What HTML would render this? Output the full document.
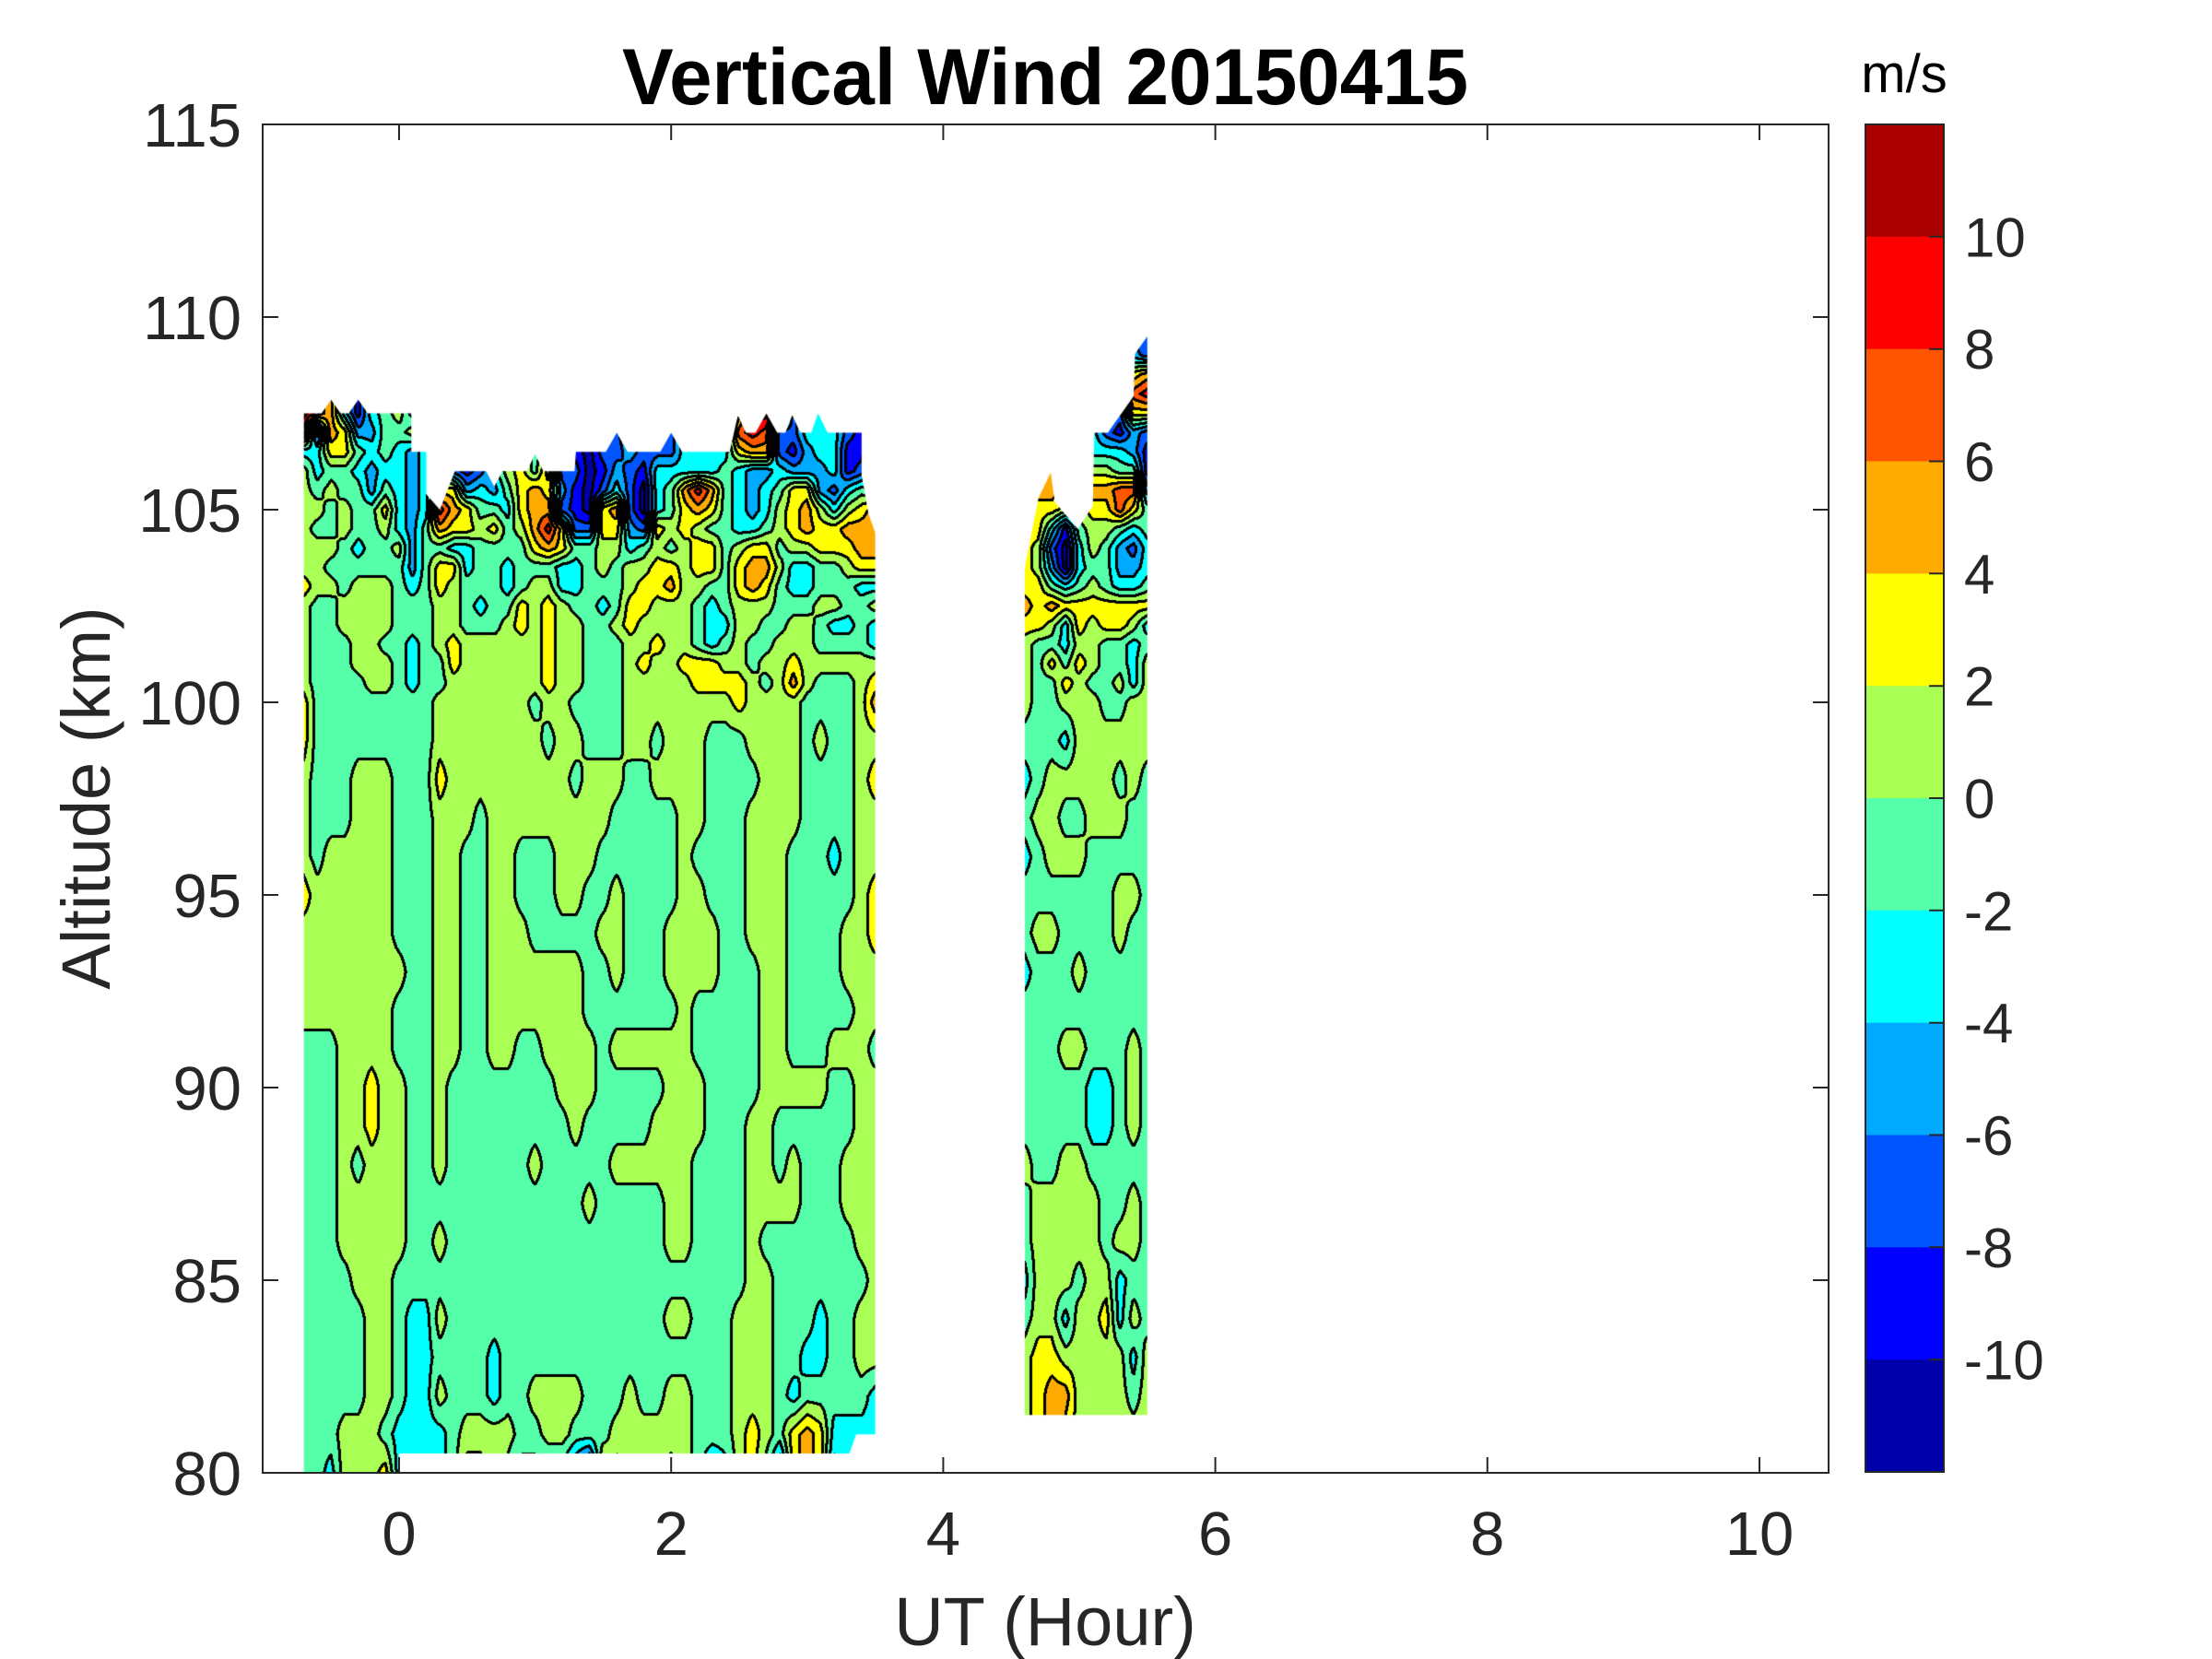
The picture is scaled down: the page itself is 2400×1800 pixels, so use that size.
<!DOCTYPE html>
<html><head><meta charset="utf-8">
<style>
html,body{margin:0;padding:0;background:#fff;}
#wrap{position:relative;width:2400px;height:1800px;overflow:hidden;background:#fff;}
#wrap svg,#wrap canvas{position:absolute;left:0;top:0;}
text{font-family:"Liberation Sans",Arial,sans-serif;}
</style></head><body>
<div id="wrap">
<svg id="bg" width="2400" height="1800">
 <rect x="330" y="470" width="620" height="1107" fill="#80ff80"/>
 <rect x="1112" y="560" width="133" height="975" fill="#80ff80"/>
</svg>
<canvas id="cv" width="2400" height="1800"></canvas>
<svg width="2400" height="1800">
 <g fill="none" stroke="#262626" stroke-width="2">
  <rect x="285" y="135" width="1699" height="1463"/>
  <path d="M433 1598V1581M728.2 1598V1581M1023.4 1598V1581M1318.6 1598V1581M1613.8 1598V1581M1909 1598V1581
           M433 135V152M728.2 135V152M1023.4 135V152M1318.6 135V152M1613.8 135V152M1909 135V152
           M285 1389H302M285 1180H302M285 971H302M285 762H302M285 553H302M285 344H302
           M1984 1389H1967M1984 1180H1967M1984 971H1967M1984 762H1967M1984 553H1967M1984 344H1967"/>
 </g>
 <g font-size="67" fill="#262626" text-anchor="end">
  <text x="262" y="1622">80</text>
  <text x="262" y="1413">85</text>
  <text x="262" y="1204">90</text>
  <text x="262" y="995">95</text>
  <text x="262" y="786">100</text>
  <text x="262" y="577">105</text>
  <text x="262" y="368">110</text>
  <text x="262" y="159">115</text>
 </g>
 <g font-size="67" fill="#262626" text-anchor="middle">
  <text x="433" y="1687">0</text>
  <text x="728.2" y="1687">2</text>
  <text x="1023.4" y="1687">4</text>
  <text x="1318.6" y="1687">6</text>
  <text x="1613.8" y="1687">8</text>
  <text x="1909" y="1687">10</text>
 </g>
 <text x="1134" y="1785" font-size="74" fill="#262626" text-anchor="middle">UT (Hour)</text>
 <text x="119" y="866" font-size="74" fill="#262626" text-anchor="middle" transform="rotate(-90 119 866)">Altitude (km)</text>
 <text x="675" y="113" font-size="86" font-weight="bold" fill="#000" textLength="918" lengthAdjust="spacingAndGlyphs">Vertical Wind 20150415</text>
 <g>
  <rect x="2024" y="135" width="85" height="122.3" fill="#AA0000"/>
  <rect x="2024" y="256.8" width="85" height="122.3" fill="#FF0000"/>
  <rect x="2024" y="378.7" width="85" height="122.3" fill="#FF5500"/>
  <rect x="2024" y="500.5" width="85" height="122.3" fill="#FFAA00"/>
  <rect x="2024" y="622.3" width="85" height="122.3" fill="#FFFF00"/>
  <rect x="2024" y="744.2" width="85" height="122.3" fill="#AAFF55"/>
  <rect x="2024" y="866" width="85" height="122.3" fill="#55FFAA"/>
  <rect x="2024" y="987.8" width="85" height="122.3" fill="#00FFFF"/>
  <rect x="2024" y="1109.7" width="85" height="122.3" fill="#00AAFF"/>
  <rect x="2024" y="1231.5" width="85" height="122.3" fill="#0055FF"/>
  <rect x="2024" y="1353.3" width="85" height="122.3" fill="#0000FF"/>
  <rect x="2024" y="1475.2" width="85" height="121.8" fill="#0000AA"/>
  <rect x="2024" y="135" width="85" height="1462" fill="none" stroke="#262626" stroke-width="2"/>
  <path fill="none" stroke="#262626" stroke-width="2" d="M2093 256.8H2109M2093 378.7H2109M2093 500.5H2109M2093 622.3H2109M2093 744.2H2109M2093 866H2109M2093 987.8H2109M2093 1109.7H2109M2093 1231.5H2109M2093 1353.3H2109M2093 1475.2H2109"/>
 </g>
 <g font-size="60" fill="#262626">
  <text x="2131" y="278.3">10</text>
  <text x="2131" y="400.2">8</text>
  <text x="2131" y="522">6</text>
  <text x="2131" y="643.8">4</text>
  <text x="2131" y="765.7">2</text>
  <text x="2131" y="887.5">0</text>
  <text x="2131" y="1009.3">-2</text>
  <text x="2131" y="1131.2">-4</text>
  <text x="2131" y="1253">-6</text>
  <text x="2131" y="1374.8">-8</text>
  <text x="2131" y="1496.7">-10</text>
 </g>
 <text x="2066" y="100" font-size="58" fill="#000" text-anchor="middle">m/s</text>
</svg>
</div>
<script>
(function(){
var X0=433,XS=147.6,Y0=1598,YS=41.8;
function PX(h){return X0+XS*h;}
function PY(a){return Y0-YS*(a-80);}
var COL=[[0,0,170],[0,0,255],[0,85,255],[0,170,255],[0,255,255],[85,255,170],[170,255,85],[255,255,0],[255,170,0],[255,85,0],[255,0,0],[170,0,0]];
var VAL={a:-11,b:-9,c:-7,d:-5,e:-3,f:-1,g:1,h:3,i:5,j:7,k:9,l:11};
var cv=document.getElementById('cv');var ctx=cv.getContext('2d');
function draw(B){
  var nc=B.nc;
  var rows=B.rows.slice().reverse();
  var G=rows.map(function(s){var r=[];for(var q=0;q<nc;q++){var ch=s.charAt(q);r.push(VAL[ch]!==undefined?VAL[ch]:-1);}return r;});
  var alts=B.alts;
  var P=B.poly.map(function(p){return [PX(p[0]),PY(p[1])];});
  var minx=1e9,maxx=-1e9,miny=1e9,maxy=-1e9;
  P.forEach(function(p){if(p[0]<minx)minx=p[0];if(p[0]>maxx)maxx=p[0];if(p[1]<miny)miny=p[1];if(p[1]>maxy)maxy=p[1];});
  var x0=Math.floor(minx)-2,y0=Math.floor(miny)-2,W=Math.ceil(maxx)-x0+3,H=Math.ceil(maxy)-y0+3;
  var band=new Int8Array(W*H);
  for(var y=0;y<H;y++){
    var alt=80+(Y0-(y0+y+0.5))/YS;
    var j=0;while(j<alts.length-2&&alts[j+1]<alt)j++;
    var ta=(alt-alts[j])/(alts[j+1]-alts[j]);if(ta<0)ta=0;if(ta>1)ta=1;
    var r0=G[j],r1=G[j+1];
    for(var x=0;x<W;x++){
      var h=(x0+x+0.5-X0)/XS;var fi=(h-B.h0)/B.dh;var i=Math.floor(fi);
      if(i<0)i=0;if(i>nc-2)i=nc-2;var tx=fi-i;if(tx<0)tx=0;if(tx>1)tx=1;
      var v=(r0[i]*(1-tx)+r0[i+1]*tx)*(1-ta)+(r1[i]*(1-tx)+r1[i+1]*tx)*ta+0.037;
      var b=Math.floor((v+12)/2);if(b<0)b=0;if(b>11)b=11;band[y*W+x]=b;
    }
  }
  var img=ctx.createImageData(W,H),d=img.data;
  var off=[[1,0],[-1,0],[0,1],[0,-1],[1,1],[-1,-1],[1,-1],[-1,1],[2,0],[0,2]];
  for(var y2=0;y2<H;y2++)for(var x2=0;x2<W;x2++){
    var k=y2*W+x2,bb=band[k],e=false;
    for(var o=0;o<off.length;o++){var xx=x2+off[o][0],yy=y2+off[o][1];if(xx<0||yy<0||xx>=W||yy>=H)continue;if(band[yy*W+xx]!==bb){e=true;break;}}
    var c=e?[0,0,0]:COL[bb];d[4*k]=c[0];d[4*k+1]=c[1];d[4*k+2]=c[2];d[4*k+3]=255;
  }
  var oc=document.createElement('canvas');oc.width=W;oc.height=H;oc.getContext('2d').putImageData(img,0,0);
  ctx.save();ctx.beginPath();
  P.forEach(function(p,n){if(n)ctx.lineTo(p[0],p[1]);else ctx.moveTo(p[0],p[1]);});
  ctx.closePath();ctx.clip();ctx.drawImage(oc,x0,y0);ctx.restore();
}
var LA=[],RA=[],a;
for(a=80;a<=99;a++){LA.push(a);RA.push(a);}
for(a=100;a<=108.001;a+=0.5)LA.push(a);
for(a=100;a<=110.001;a+=0.5)RA.push(a);
var L=[
"ljiebefgee"+"eeccehhhge"+"cbbcecccee"+"eehlliceee"+"dbe",
"ljiebefgee"+"eeccehhhge"+"cbbcecccee"+"eehlliceee"+"dbe",
"jcihddffge"+"eeccehhhge"+"cbccecccee"+"eejkjcceee"+"cbe",
"eehhfefede"+"ecccehhfge"+"baccdcccee"+"eehiicbdee"+"bbe",
"geffedeede"+"ecbceghfic"+"cabdcbeeee"+"efeddeddde"+"bce",
"gfgffdfede"+"hhdedfhihd"+"bacecaefik"+"ifedefhhdc"+"efe",
"ggfgffhede"+"kihffehiic"+"bahicaefhi"+"hfedeghige"+"ghi",
"gffgffgedf"+"ihhghfgikh"+"cchhdchghg"+"ffeefghihh"+"iii",
"gggfeffgdf"+"feeffffhih"+"ffggefgfgh"+"hfghhfgghh"+"hii",
"ggffffffdf"+"hheffefffe"+"efgfgghhgh"+"hfhiigeeff"+"ghh",
"hggfgggfef"+"hgfffefgge"+"efffghhigg"+"ffhihfeeff"+"fee",
"gffggggfff"+"ggfeffhghg"+"ffefhhgggf"+"efgggfffgg"+"ffg",
"gffggggfff"+"ggfffghghg"+"gffghggggf"+"eeggffggfe"+"efe",
"gfffggffef"+"ghgggggghg"+"gfffgghggf"+"efgffgggff"+"ffe",
"gfffgggfef"+"fhgggggghg"+"gfffghgghh"+"hggfgghggg"+"ggg",
"gffffggfef"+"fggggggghg"+"gfffgggggh"+"hhhgfgigff"+"fgh",
"hfffffffff"+"gggggggfgg"+"ffffgggggg"+"gghggggfff"+"fgi",
"hfffffffff"+"ggggggggfg"+"gfffggfggg"+"fffggggfgf"+"fgg",
"gfffgggfff"+"hggggggggg"+"fgggffgggg"+"ffffgggfff"+"fgh",
"gfffgggfff"+"gggfgggggg"+"gggfffffgg"+"fffggggfff"+"fgg",
"gfgggggfff"+"ggffggfffg"+"ggffffffgf"+"fffgggfffe"+"fgg",
"hggggggfff"+"ggffggfffg"+"gffgffffgg"+"fffgggffff"+"fgh",
"gggggggfff"+"ggffgggfff"+"ffggfffggg"+"gffgggffff"+"ggh",
"ggggggggff"+"ggffgggggg"+"gffgfffggg"+"gfffggffff"+"ggg",
"gggggggfff"+"ggffgggggg"+"gfffffffgf"+"ffffggffff"+"fgg",
"fffggggfff"+"ggffggffgg"+"ggfggggggf"+"ffffggfffg"+"ggf",
"fffgghggff"+"gffffffffg"+"ggfffffggg"+"ffffgggggf"+"fgg",
"fffgghggff"+"gfffffffff"+"gfffffgggg"+"fffggfffff"+"fgg",
"fffgfgggff"+"gffffffgff"+"fffggggggf"+"fffggfgfff"+"ggg",
"fffgggggff"+"ffffffffff"+"fgfffffggf"+"fffggggfff"+"ggg",
"fffgggggff"+"gfffffffff"+"fffffffggf"+"fffgffffff"+"fgg",
"ffffgggfff"+"ffffffffff"+"ffffffffff"+"fffggfffff"+"ffg",
"fffffggfee"+"gfffffffff"+"fffffffggf"+"ffgggfffef"+"fgg",
"fffffggfee"+"ffffefffff"+"ffffffffff"+"ffgggffeef"+"fgg",
"fffffggfee"+"gfffeffggg"+"gfffgffggf"+"ffgggfefff"+"ffe",
"fffgggfeee"+"efggggffgg"+"fffggggggf"+"ffghgfhihe"+"eee",
"ffegggheee"+"efhhgfeeee"+"cahfggghgf"+"deghfchihd"+"ede"
];
var R=[
"eeeeeeeecc","eeeeeeeecc","eeeeeeeedc","eeeeeeeehi","eeeeeeeejk","eeeeeedchh","hhhhhecbdc",
"iiihgeeedb","hiihgggffb","hiihgiijjd","hhhgghhjhf","hhebfggfef","hgcaegfdce","hgdaeffdde",
"hhfefgfeef","ihihhhhhhh","hhgehghhge","gffeggffef","gfhfhgffeg","gffhgffgeg","gffgggffgg",
"fffegggggg","efgggggfgf","fggffgggff","efgggfffff","fffffffggf","fggffffgff","efffgfffff",
"ffffffffff","fffggfffgf","fffffeefgf","fffffeefgf","gffggfffff","fgggggffgf","fgggggfggf",
"egggfggeff","fggegghegf","ghhgggggeg","ghiiggggfg","ghihgggggg","ghihgggggg"
];
var LP=[[-0.70,80.0],[-0.70,107.5],[-0.57,107.5],[-0.50,107.85],[-0.43,107.5],[-0.37,107.5],[-0.30,107.85],[-0.23,107.5],[0.09,107.5],[0.09,106.5],[0.20,106.5],[0.20,105.4],[0.30,105.0],[0.41,106.0],[0.64,106.0],[0.70,105.6],[0.76,106.0],[0.94,106.0],[1.0,106.45],[1.06,106.0],[1.29,106.0],[1.30,106.5],[1.52,106.5],[1.60,107.0],[1.68,106.5],[1.92,106.5],[2.0,107.0],[2.08,106.5],[2.43,106.5],[2.49,107.45],[2.55,107.0],[2.62,107.0],[2.70,107.5],[2.78,107.0],[2.84,107.0],[2.89,107.45],[2.95,107.0],[3.03,107.0],[3.08,107.5],[3.15,107.0],[3.40,107.0],[3.40,105.9],[3.45,104.9],[3.50,104.4],[3.50,81.0],[3.36,81.0],[3.31,80.5],[0.0,80.5],[0.0,80.0]];
var RP=[[4.60,81.5],[4.60,103.5],[4.70,105.3],[4.79,105.96],[4.82,105.2],[4.99,104.5],[5.10,105.1],[5.11,107.0],[5.21,107.0],[5.40,107.95],[5.41,109.05],[5.50,109.5],[5.50,81.5]];
try{
draw({nc:43,h0:-0.7,dh:0.1,alts:LA,rows:L,poly:LP});
draw({nc:10,h0:4.6,dh:0.1,alts:RA,rows:R,poly:RP});
document.getElementById('bg').style.display='none';
}catch(err){}
})();
</script>
</body></html>
